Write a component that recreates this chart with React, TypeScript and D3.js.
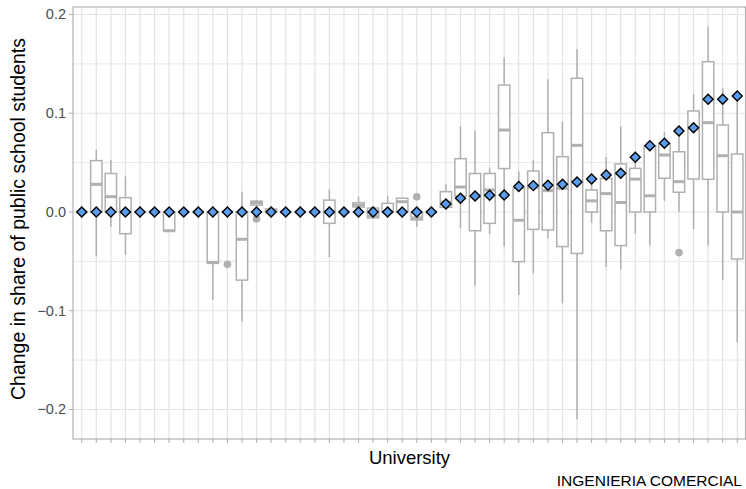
import React from "react";
import * as d3 from "d3";

const categories: string[] = Array.from({ length: 46 }, (_, i) => `U${i + 1}`);

const estimate = [
  0, 0, 0, 0, 0, 0, 0, 0, 0, 0,
  0, 0, 0, 0, 0, 0, 0, 0, 0, 0,
  0, 0, 0, 0, 0, 0.0081, 0.0139, 0.0162, 0.0169, 0.0172,
  0.0257, 0.0267, 0.027, 0.028, 0.0304, 0.0334, 0.0375, 0.0392, 0.0554, 0.0671,
  0.0696, 0.082, 0.0854, 0.1141, 0.1141, 0.1175,
];
const whiskerLow = [
  0, -0.045, -0.015, -0.0435, 0, 0, -0.019, 0, 0, -0.089,
  0, -0.111, 0.005, 0, 0, 0, 0, -0.0457, 0, 0,
  -0.007, 0, 0, -0.015, 0, 0.0047, -0.0165, -0.0746, -0.0223, -0.035,
  -0.084, -0.062, -0.0267, -0.0925, -0.21, -0.011, -0.0556, -0.058, -0.0223, -0.034,
  0.0113, 0, -0.0172, -0.034, -0.0689, -0.132,
];
const q1 = [
  0, 0, 0, -0.022, 0, 0, -0.019, 0, 0, -0.052,
  0, -0.069, 0.007, 0, 0, 0, 0, -0.0115, 0, 0.005,
  -0.006, 0, 0, -0.008, 0, 0.0047, 0.016, -0.019, -0.0115, 0.044,
  -0.0503, -0.0176, -0.0182, -0.035, -0.042, 0, -0.019, -0.034, 0, 0,
  0.0341, 0.02, 0.0334, 0.0331, 0, -0.0476,
];
const median = [
  0, 0.028, 0.0155, 0, 0, 0, -0.019, 0, 0, -0.051,
  0, -0.0276, 0.0095, 0.001, 0, 0, 0, 0, 0, 0.007,
  -0.004, 0, 0.0104, -0.006, 0, 0.01, 0.0253, 0.016, 0.0223, 0.083,
  -0.0084, 0.025, 0.0216, 0.024, 0.0675, 0.0113, 0.0186, 0.0096, 0.0333, 0.0164,
  0.0577, 0.0307, 0.085, 0.0904, 0.057, 0,
];
const q3 = [
  0, 0.052, 0.039, 0.0145, 0, 0, 0, 0, 0, 0,
  0, 0, 0.011, 0.003, 0, 0, 0, 0.012, 0, 0.0094,
  0.004, 0.0088, 0.0139, 0, 0, 0.0206, 0.054, 0.039, 0.039, 0.1286,
  0.024, 0.0415, 0.0803, 0.056, 0.1354, 0.0223, 0.034, 0.0486, 0.0442, 0.067,
  0.0693, 0.061, 0.1023, 0.1522, 0.0881, 0.0587,
];
const whiskerHigh = [
  0, 0.063, 0.053, 0.036, 0, 0, 0, 0, 0, 0,
  0, 0.0206, 0.012, 0.004, 0, 0, 0, 0.023, 0, 0.0155,
  0.005, 0.016, 0.0139, 0, 0, 0.028, 0.087, 0.0823, 0.045, 0.1566,
  0.041, 0.0527, 0.1344, 0.0915, 0.1648, 0.032, 0.0556, 0.0867, 0.0587, 0.068,
  0.081, 0.078, 0.119, 0.1877, 0.1253, 0.1168,
];
const outlierCategory = ["U11", "U13", "U24", "U42"];
const outlierValue = [-0.053, -0.007, 0.0155, -0.0412];

const yTicks = [-0.2, -0.1, 0, 0.1, 0.2];
const yMinor = [-0.15, -0.05, 0.05, 0.15];

const W = 746;
const H = 489;
const panel = { left: 73, right: 746, top: 7, bottom: 439 };

export default function App() {
  const x = d3
    .scalePoint<string>()
    .domain(categories)
    .range([panel.left, panel.right])
    .padding(0.6);
  const step = x.step();
  const allVals = [...whiskerLow, ...whiskerHigh, ...outlierValue, ...estimate];
  const lo = d3.min(allVals) as number;
  const hi = d3.max(allVals) as number;
  const pad = (hi - lo) * 0.05;
  const y = d3.scaleLinear().domain([lo - pad, hi + pad]).range([panel.bottom, panel.top]);

  const boxW = step * 0.78;
  const grid = "#e3e3e3";
  const boxCol = "#b0b0b0";
  const fmt = (v: number) => (v < 0 ? "\u2212" : "") + d3.format(".1f")(Math.abs(v));
  const font = "'Liberation Sans', Arial, sans-serif";
  const diamond = (cx: number, cy: number, r: number) =>
    `M${cx},${cy - r}L${cx + r},${cy}L${cx},${cy + r}L${cx - r},${cy}Z`;

  return (
    <svg
      width={W}
      height={H}
      style={{ position: "absolute", left: 0, top: 0, background: "#fff" }}
      fontFamily={font}
    >
      <rect x={0} y={0} width={W} height={H} fill="#fff" />
      {/* grid */}
      {yMinor.map((v) => (
        <line key={"mi" + v} x1={panel.left} x2={panel.right} y1={y(v)} y2={y(v)} stroke={grid} strokeWidth={0.9} />
      ))}
      {yTicks.map((v) => (
        <line key={"ma" + v} x1={panel.left} x2={panel.right} y1={y(v)} y2={y(v)} stroke={grid} strokeWidth={1.2} />
      ))}
      {categories.map((c) => (
        <line key={"gx" + c} x1={x(c)} x2={x(c)} y1={panel.top} y2={panel.bottom} stroke={grid} strokeWidth={1.2} />
      ))}
      {/* boxplots */}
      {categories.map((c, i) => {
        const cx = x(c) as number;
        return (
          <g key={"b" + c} stroke={boxCol} fill="none">
            <line x1={cx} x2={cx} y1={y(q3[i])} y2={y(whiskerHigh[i])} strokeWidth={1.5} />
            <line x1={cx} x2={cx} y1={y(q1[i])} y2={y(whiskerLow[i])} strokeWidth={1.5} />
            <rect
              x={cx - boxW / 2}
              y={y(q3[i])}
              width={boxW}
              height={Math.max(0, y(q1[i]) - y(q3[i]))}
              fill="#fff"
              strokeWidth={1.5}
            />
            <line x1={cx - boxW / 2} x2={cx + boxW / 2} y1={y(median[i])} y2={y(median[i])} strokeWidth={3} />
          </g>
        );
      })}
      {outlierCategory.map((c, i) => (
        <circle key={"o" + i} cx={x(c)} cy={y(outlierValue[i])} r={3.8} fill={boxCol} />
      ))}
      {/* estimates */}
      {categories.map((c, i) => (
        <path
          key={"d" + c}
          d={diamond(x(c) as number, y(estimate[i]), 5)}
          fill="#5b9bec"
          stroke="#000"
          strokeWidth={1.4}
        />
      ))}
      {/* panel border */}
      <rect
        x={panel.left}
        y={panel.top}
        width={panel.right - panel.left - 0.5}
        height={panel.bottom - panel.top}
        fill="none"
        stroke="#b3b3b3"
        strokeWidth={1.2}
      />
      {/* y axis */}
      {yTicks.map((v) => (
        <g key={"yt" + v}>
          <line x1={panel.left - 4} x2={panel.left} y1={y(v)} y2={y(v)} stroke="#b3b3b3" strokeWidth={1.1} />
          <text x={panel.left - 7} y={y(v) + 5} textAnchor="end" fontSize={14.5} fill="#4d4d4d">
            {fmt(v)}
          </text>
        </g>
      ))}
      {/* x ticks */}
      {categories.map((c) => (
        <line key={"xt" + c} x1={x(c)} x2={x(c)} y1={panel.bottom} y2={panel.bottom + 4} stroke="#b3b3b3" strokeWidth={1.1} />
      ))}
      <text x={(panel.left + panel.right) / 2} y={464} textAnchor="middle" fontSize={18.5} fill="#000">
        University
      </text>
      <text
        transform={`translate(25, ${(panel.top + panel.bottom) / 2 - 4}) rotate(-90)`}
        textAnchor="middle"
        fontSize={19.5}
        fill="#000"
      >
        Change in share of public school students
      </text>
      <text x={742} y={486} textAnchor="end" fontSize={15.5} fill="#000">
        INGENIERIA COMERCIAL
      </text>
    </svg>
  );
}
